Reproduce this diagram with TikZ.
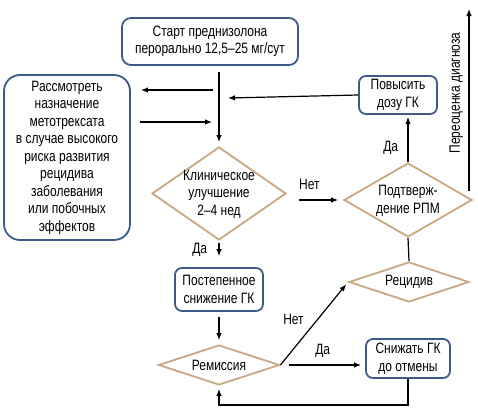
\documentclass[tikz,border=0pt]{standalone}
\usepackage{fontspec}
\setmainfont{Liberation Sans}[FakeStretch=0.8]
\usetikzlibrary{shapes.geometric,arrows.meta}
\definecolor{boxblue}{HTML}{3F5A8A}
\definecolor{diamtan}{HTML}{C8A882}
\tikzset{
	every node/.style={font=\fontsize{15}{17.5}\selectfont},
	stepbox/.style={shape=rectangle, rounded corners=7pt, draw=boxblue, line width=1.8pt, align=center, inner sep=0pt},
	choice/.style={shape=diamond, draw=diamtan, line width=1.8pt, inner sep=0pt},
	>={Latex[length=7pt,width=5.5pt]},
	link/.style={line width=1.2pt}
}
\begin{document}
\begin{tikzpicture}[x=1pt,y=-1pt]
	\useasboundingbox (0,0) rectangle (478,415);

	\draw (210,41.5) node[stepbox, minimum width=176pt, minimum height=47pt, rounded corners=9pt](start){Старт преднизолона\\перорально 12,5--25 мг/сут};
	\draw (67,157.5) node[stepbox, minimum width=126pt, minimum height=165pt, rounded corners=16pt](mtx){Рассмотреть\\назначение\\метотрексата\\в случае высокого\\риска развития\\рецидива\\заболевания\\или побочных\\эффектов};
	\draw (398,95) node[stepbox, minimum width=78pt, minimum height=38pt](raise){Повысить\\дозу ГК};
	\draw (219,193.5) node[choice, minimum width=134pt, minimum height=93pt](improve){};
	\draw (219,194) node[align=center](improvetext){Клиническое\\улучшение\\2--4 нед};
	\draw (408,200) node[choice, minimum width=128pt, minimum height=74pt](confirm){};
	\draw (408,201) node[align=center](confirmtext){Подтверж-\\дение РПМ};
	\draw (409,282) node[choice, minimum width=120pt, minimum height=40pt](relapse){};
	\draw (409,282) node(relapsetext){Рецидив};
	\draw (219,289.5) node[stepbox, minimum width=88pt, minimum height=43pt](taper){Постепенное\\снижение ГК};
	\draw (219,365) node[choice, minimum width=121pt, minimum height=40pt](remission){};
	\draw (219,365) node(remissiontext){Ремиссия};
	\draw (408,358.5) node[stepbox, minimum width=84pt, minimum height=39pt](stop){Снижать ГК\\до отмены};

	\coordinate (toleft) at (213,90);
	\coordinate (toright) at (212,122);
	\coordinate (back) at (228,98);
	\coordinate (reval) at (469,9);

	\draw [->, link, shorten <=6pt, shorten >=4pt](start.south -| improve.north) -- (improve.north);
	\draw [->, link, shorten >=10pt](toleft) -- (toleft -| mtx.east);
	\draw [->, link, shorten <=9pt](toright -| mtx.east) -- (toright);
	\draw [->, link](raise.west) -- (back);
	\draw [->, link, shorten <=12pt, shorten >=5pt](improve.east |- confirm.west) -- (confirm.west) node[pos=0.4, above=6pt]{Нет};
	\draw [->, link, shorten >=2pt](confirm.north) -- (confirm.north |- raise.south) node[pos=0.3, left=6pt]{Да};
	\draw [->, link, shorten <=9pt](reval |- confirm.east) -- (reval) node[pos=0.56, above=2pt, sloped]{Переоценка диагноза};
	\draw [link](relapse.north) -- (confirm.south);
	\draw [->, link, shorten <=2pt, shorten >=11pt](improve.south) -- (taper.north) node[pos=0.35, left=8pt]{Да};
	\draw [->, link, shorten <=5pt, shorten >=4pt](taper.south) -- (remission.north);
	\draw [->, link, shorten >=3pt](remission.east) -- (relapse.west) node[pos=0.55, left=10pt]{Нет};
	\draw [->, link, shorten <=9pt, shorten >=4pt](remission.east) -- (remission.east -| stop.west) node[midway, above=4pt]{Да};
	\draw [->, link, shorten >=3pt](stop.south) -- ++(0,26) -| (remission.south);
\end{tikzpicture}
\end{document}
